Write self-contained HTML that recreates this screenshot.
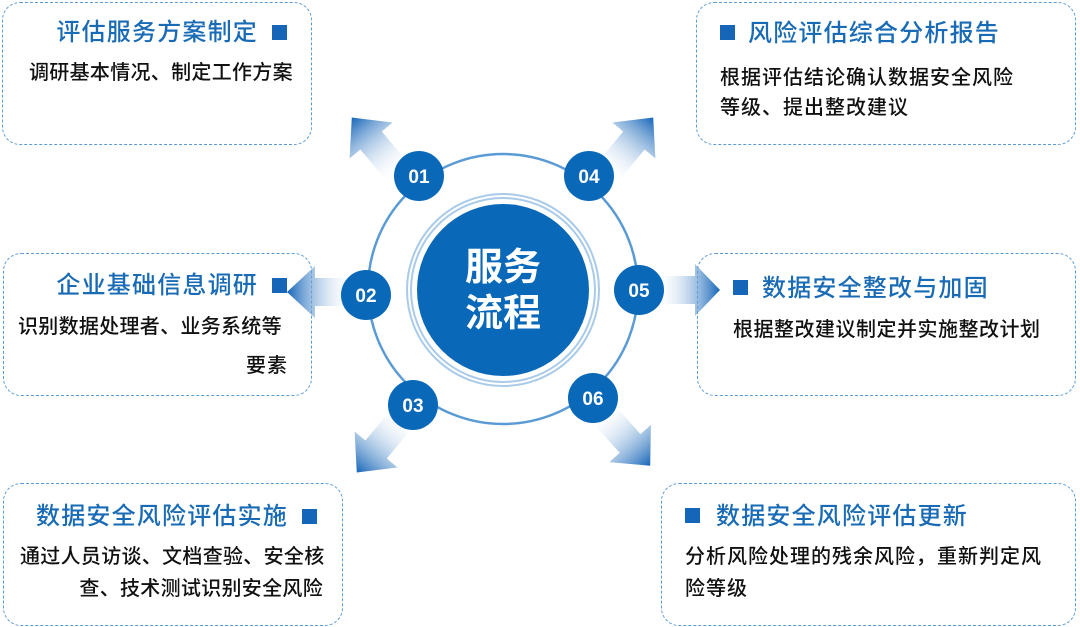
<!DOCTYPE html>
<html><head><meta charset="utf-8"><style>
body{margin:0;width:1080px;height:627px;background:#fff;position:relative;overflow:hidden;font-family:"Liberation Sans","Noto Sans CJK SC",sans-serif}
.box{position:absolute;border:1.5px dashed #5b9bd5;border-radius:18px;box-sizing:border-box}
.t{position:absolute;color:#1a6bb5;font-size:24px;letter-spacing:1.2px;white-space:nowrap;line-height:1;font-weight:500}
.b{position:absolute;color:#111;font-size:20px;letter-spacing:1px;white-space:nowrap;line-height:1;font-weight:500}
.sq{position:absolute;width:15px;height:15px;background:#1565b8}
</style></head><body>
<div class="box" style="left:2px;top:2px;width:310px;height:143px"></div>
<div class="t" style="right:822px;top:21px">评估服务方案制定</div><div class="sq" style="left:272px;top:25px"></div>
<div class="b" style="left:29px;top:63px;letter-spacing:0.3px">调研基本情况、制定工作方案</div>

<div class="box" style="left:3px;top:253px;width:309px;height:143px"></div>
<div class="t" style="right:822px;top:274px">企业基础信息调研</div><div class="sq" style="left:272px;top:278px"></div>
<div class="b" style="left:18px;top:317px;letter-spacing:0.3px">识别数据处理者、业务系统等</div>
<div class="b" style="right:792px;top:356px">要素</div>

<div class="box" style="left:3px;top:483px;width:340px;height:143px"></div>
<div class="t" style="right:792px;top:505px">数据安全风险评估实施</div><div class="sq" style="left:302px;top:509px"></div>
<div class="b" style="left:20px;top:547px;letter-spacing:0.3px">通过人员访谈、文档查验、安全核</div>
<div class="b" style="right:757px;top:579px;letter-spacing:0.3px">查、技术测试识别安全风险</div>

<div class="box" style="left:696px;top:2px;width:380px;height:143px"></div>
<div class="sq" style="left:720px;top:25px"></div><div class="t" style="left:748px;top:22px">风险评估综合分析报告</div>
<div class="b" style="left:720px;top:68px">根据评估结论确认数据安全风险</div>
<div class="b" style="left:720px;top:98px">等级、提出整改建议</div>

<div class="box" style="left:697px;top:253px;width:379px;height:143px"></div>
<div class="sq" style="left:733px;top:280px"></div><div class="t" style="left:762px;top:277px">数据安全整改与加固</div>
<div class="b" style="left:733px;top:320px;letter-spacing:0.5px">根据整改建议制定并实施整改计划</div>

<div class="box" style="left:661px;top:483px;width:415px;height:143px"></div>
<div class="sq" style="left:685px;top:508px"></div><div class="t" style="left:716px;top:505px">数据安全风险评估更新</div>
<div class="b" style="left:685px;top:547px">分析风险处理的残余风险，重新判定风</div>
<div class="b" style="left:685px;top:579px">险等级</div>

<svg width="1080" height="627" style="position:absolute;left:0;top:0">
<defs><linearGradient id="g" x1="0" y1="0" x2="1" y2="0"><stop offset="0" stop-color="#fff" stop-opacity="0"/><stop offset="1" stop-color="#1565b8"/></linearGradient></defs>
<g fill="url(#g)">
<g transform="translate(400,175) rotate(-130)"><polygon points="0,-14 45,-14 45,-28 75,0 45,28 45,14 0,14"/></g>
<g transform="translate(605,175) rotate(-50)"><polygon points="0,-14 45,-14 45,-28 75,0 45,28 45,14 0,14"/></g>
<g transform="translate(355,292) rotate(180)"><polygon points="0,-14 40,-14 40,-26 68,0 40,26 40,14 0,14"/></g>
<g transform="translate(655,290)"><polygon points="0,-14 40,-14 40,-26 65,0 40,26 40,14 0,14"/></g>
<g transform="translate(405,415) rotate(130)"><polygon points="0,-14 45,-14 45,-28 75,0 45,28 45,14 0,14"/></g>
<g transform="translate(600,410) rotate(48)"><polygon points="0,-14 45,-14 45,-28 75,0 45,28 45,14 0,14"/></g>
</g>
<circle cx="503" cy="289" r="135" fill="none" stroke="#5b9bd5" stroke-width="2.5"/>
<circle cx="503" cy="290" r="96" fill="none" stroke="#a9cbe9" stroke-width="2"/>
<circle cx="503" cy="290" r="92" fill="none" stroke="#a9cbe9" stroke-width="2"/>
<circle cx="503" cy="290" r="86" fill="#0a68b8"/>
<text x="503" y="280" fill="#fff" font-size="38" font-weight="bold" text-anchor="middle" font-family="Liberation Sans,Noto Sans CJK SC,sans-serif">服务</text>
<text x="503" y="326" fill="#fff" font-size="38" font-weight="bold" text-anchor="middle" font-family="Liberation Sans,Noto Sans CJK SC,sans-serif">流程</text>
<g fill="#0a68b8"><circle cx="419" cy="176" r="25"/><circle cx="589" cy="176" r="25"/><circle cx="366" cy="295" r="25"/><circle cx="639" cy="290" r="25"/><circle cx="413" cy="405" r="25"/><circle cx="593" cy="398" r="25"/></g>
<g fill="#fff" font-size="19" font-weight="bold" text-anchor="middle" font-family="Liberation Sans,sans-serif">
<text x="419" y="183">01</text><text x="589" y="183">04</text><text x="366" y="302">02</text><text x="639" y="297">05</text><text x="413" y="412">03</text><text x="593" y="405">06</text></g>
</svg>
</body></html>
